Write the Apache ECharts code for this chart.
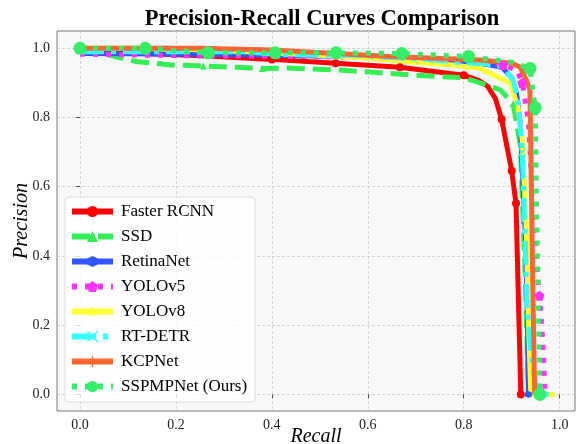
<!DOCTYPE html>
<html>
<head>
<meta charset="utf-8">
<script src="https://cdn.jsdelivr.net/npm/echarts@6/dist/echarts.min.js"></script>
<style>html,body{margin:0;padding:0;background:#fff}#c{width:578px;height:444px}</style>
</head>
<body>
<div id="c"></div>
<script>
// ---- data ----
const seriesNames = ['Faster RCNN','SSD','RetinaNet','YOLOv5','YOLOv8','RT-DETR','KCPNet','SSPMPNet (Ours)'];
const xTicks = [0.0, 0.2, 0.4, 0.6, 0.8, 1.0];
const yTicks = [0.0, 0.2, 0.4, 0.6, 0.8, 1.0];

const fasterRecall    = [0.0, 0.133, 0.267, 0.4, 0.533, 0.667, 0.8, 0.83, 0.85, 0.866, 0.879, 0.9, 0.909, 0.919];
const fasterPrecision = [0.99, 0.985, 0.978, 0.968, 0.957, 0.945, 0.922, 0.908, 0.89, 0.855, 0.795, 0.646, 0.552, 0.0];

const ssdRecall    = [0.0, 0.05, 0.085, 0.12, 0.19, 0.257, 0.38, 0.43, 0.54, 0.6, 0.7, 0.8, 0.834, 0.876, 0.903, 0.918, 0.928, 0.935];
const ssdPrecision = [0.988, 0.985, 0.972, 0.961, 0.952, 0.949, 0.942, 0.943, 0.937, 0.932, 0.922, 0.915, 0.9, 0.88, 0.84, 0.72, 0.35, 0.0];

const retinaRecall    = [0.0, 0.1, 0.2, 0.3, 0.4, 0.5, 0.6, 0.7, 0.8, 0.85, 0.88, 0.9, 0.91, 0.918, 0.922, 0.928, 0.932, 0.935];
const retinaPrecision = [0.985, 0.984, 0.983, 0.982, 0.98, 0.978, 0.975, 0.97, 0.962, 0.953, 0.945, 0.915, 0.87, 0.78, 0.65, 0.48, 0.28, 0.0];

const yolo5Recall    = [0.0, 0.1, 0.2, 0.3, 0.4, 0.5, 0.6, 0.7, 0.8, 0.85, 0.882, 0.911, 0.922, 0.928, 0.935, 0.94, 0.945, 0.95, 0.958, 0.965, 0.97, 0.99];
const yolo5Precision = [0.983, 0.981, 0.979, 0.978, 0.977, 0.976, 0.974, 0.97, 0.965, 0.96, 0.952, 0.937, 0.9, 0.85, 0.784, 0.657, 0.49, 0.4, 0.285, 0.15, 0.0, 0.0];

const yolo8Recall    = [0.0, 0.1, 0.2, 0.35, 0.5, 0.6, 0.695, 0.778, 0.834, 0.855, 0.897, 0.913, 0.922, 0.93, 0.935, 0.94, 0.99];
const yolo8Precision = [1.0, 1.0, 0.998, 0.99, 0.98, 0.972, 0.96, 0.952, 0.942, 0.928, 0.9, 0.83, 0.735, 0.5, 0.2, 0.0, 0.0];

const detrRecall    = [0.0, 0.1, 0.2, 0.344, 0.41, 0.557, 0.7, 0.786, 0.845, 0.882, 0.903, 0.913, 0.918, 0.922, 0.928, 0.932, 0.938, 0.945, 0.955, 0.99];
const detrPrecision = [0.99, 0.99, 0.99, 0.99, 0.982, 0.98, 0.97, 0.96, 0.955, 0.947, 0.908, 0.85, 0.772, 0.70, 0.466, 0.26, 0.15, 0.07, 0.0, 0.0];

const kcpRecall    = [0.0, 0.1, 0.25, 0.4, 0.646, 0.834, 0.9, 0.918, 0.93, 0.938, 0.94, 0.943, 0.946, 0.948];
const kcpPrecision = [1.0, 1.0, 1.0, 0.995, 0.976, 0.966, 0.957, 0.945, 0.91, 0.88, 0.7, 0.4, 0.15, 0.0];

const oursRecall    = [0.0, 0.136, 0.267, 0.407, 0.534, 0.671, 0.81, 0.9, 0.938, 0.949, 0.951, 0.955, 0.959];
const oursPrecision = [1.0, 1.0, 0.987, 0.987, 0.987, 0.985, 0.976, 0.96, 0.942, 0.828, 0.6, 0.3, 0.0];

// ---- styles ----
const SERIF = 'Liberation Serif';
const PENTAGON = 'path://M0,-10 L9.5,-3.1 L5.9,8.1 L-5.9,8.1 L-9.5,-3.1 Z';
const HEXAGON = 'path://M0,-10 L8.66,-5 L8.66,5 L0,10 L-8.66,5 L-8.66,-5 Z';
const XMARK = 'path://M-10,-8 L-8,-10 L0,-2 L8,-10 L10,-8 L2,0 L10,8 L8,10 L0,2 L-8,10 L-10,8 L-2,0 Z';
const PLUS = 'path://M-1.2,-10 L1.2,-10 L1.2,-1.2 L10,-1.2 L10,1.2 L1.2,1.2 L1.2,10 L-1.2,10 L-1.2,1.2 L-10,1.2 L-10,-1.2 L-1.2,-1.2 Z';
const STAR = 'path://M0,-10 L2.4,-3.3 L9.5,-3.1 L3.8,1.2 L5.9,8.1 L0,4 L-5.9,8.1 L-3.8,1.2 L-9.5,-3.1 L-2.4,-3.3 Z';

const styles = [
  {color:'#ff0000', type:'solid',        symbol:'circle',   size:8,  marks:[3,4,5,6,10,11,12,13]},
  {color:'#33ee55', type:[18,8],         symbol:'triangle', size:7,  marks:[5,6,14]},
  {color:'#3355ff', type:'solid',        symbol:HEXAGON,    size:7,  marks:[17]},
  {color:'#ff33ff', type:[5,8],          symbol:PENTAGON,   size:10, marks:[10,12,18]},
  {color:'#ffff33', type:'solid',        symbol:STAR,       size:7,  marks:[13]},
  {color:'#33ffff', type:[24,7,5,7],     symbol:XMARK,      size:8,  marks:[13,15]},
  {color:'#ff6633', type:'solid',        symbol:PLUS,       size:8,  marks:[]},
  {color:'#33ee66', type:[5,8],          symbol:'circle',   size:13, marks:[0,1,2,3,4,5,6,8,9,12]}
];
const recalls = [fasterRecall, ssdRecall, retinaRecall, yolo5Recall, yolo8Recall, detrRecall, kcpRecall, oursRecall];
const precisions = [fasterPrecision, ssdPrecision, retinaPrecision, yolo5Precision, yolo8Precision, detrPrecision, kcpPrecision, oursPrecision];

const series = seriesNames.map((name, i) => {
  const st = styles[i];
  return {
    name: name,
    type: 'line',
    data: recalls[i].map((r, j) => st.marks.indexOf(j) >= 0
      ? {value: [r, precisions[i][j]]}
      : {value: [r, precisions[i][j]], symbol: 'none'}),
    showSymbol: true,
    showAllSymbol: true,
    symbol: st.symbol,
    symbolSize: st.size,
    itemStyle: {color: st.color},
    lineStyle: {color: st.color, width: 5, type: st.type},
    silent: true,
    animation: false
  };
});

const chart = echarts.init(document.getElementById('c'), null, {renderer: 'canvas'});
chart.setOption({
  animation: false,
  backgroundColor: '#ffffff',
  title: {
    text: 'Precision-Recall Curves Comparison',
    left: 317, top: 3, textAlign: 'center',
    textStyle: {fontFamily: SERIF, fontWeight: 'bold', fontSize: 22.5, color: '#000'}
  },
  grid: {
    left: 57, top: 31, right: 3, bottom: 33,
    outerBoundsMode: 'none', containLabel: false,
    show: true, backgroundColor: '#f8f8f8', borderColor: '#777', borderWidth: 1
  },
  legend: {
    orient: 'vertical', left: 65, top: 197,
    data: seriesNames,
    itemWidth: 41, itemHeight: 14, itemGap: 8,
    padding: [6, 8, 7, 4],
    backgroundColor: 'rgba(255,255,255,0.8)',
    borderColor: '#dddddd', borderWidth: 1, borderRadius: 4,
    lineStyle: {width: 6},
    textStyle: {fontFamily: SERIF, fontSize: 17, color: '#000', padding: [0, 0, 0, 3]}
  },
  xAxis: {
    type: 'value', min: -0.048, max: 1.032,
    name: 'Recall', nameLocation: 'middle', nameGap: 16, nameMoveOverlap: false,
    nameTextStyle: {fontFamily: SERIF, fontStyle: 'italic', fontSize: 20, color: '#000'},
    axisLine: {show: false},
    axisTick: {show: true, customValues: xTicks, length: 4, lineStyle: {color: '#555'}},
    axisLabel: {customValues: xTicks, formatter: v => v.toFixed(1), fontFamily: SERIF, fontSize: 14, color: '#222', margin: 7},
    splitLine: {show: true, lineStyle: {color: '#cccccc', width: 0.8, type: [3, 2]}}
  },
  yAxis: {
    type: 'value', min: -0.048, max: 1.05,
    name: 'Precision', nameLocation: 'middle', nameGap: 25, nameMoveOverlap: false,
    nameTextStyle: {fontFamily: SERIF, fontStyle: 'italic', fontSize: 20, color: '#000'},
    axisLine: {show: false},
    axisTick: {show: true, customValues: yTicks, length: 4, lineStyle: {color: '#555'}},
    axisLabel: {customValues: yTicks, formatter: v => v.toFixed(1), fontFamily: SERIF, fontSize: 14, color: '#222', margin: 7},
    splitLine: {show: true, lineStyle: {color: '#cccccc', width: 0.8, type: [3, 2]}}
  },
  series: series
});
</script>
</body>
</html>
